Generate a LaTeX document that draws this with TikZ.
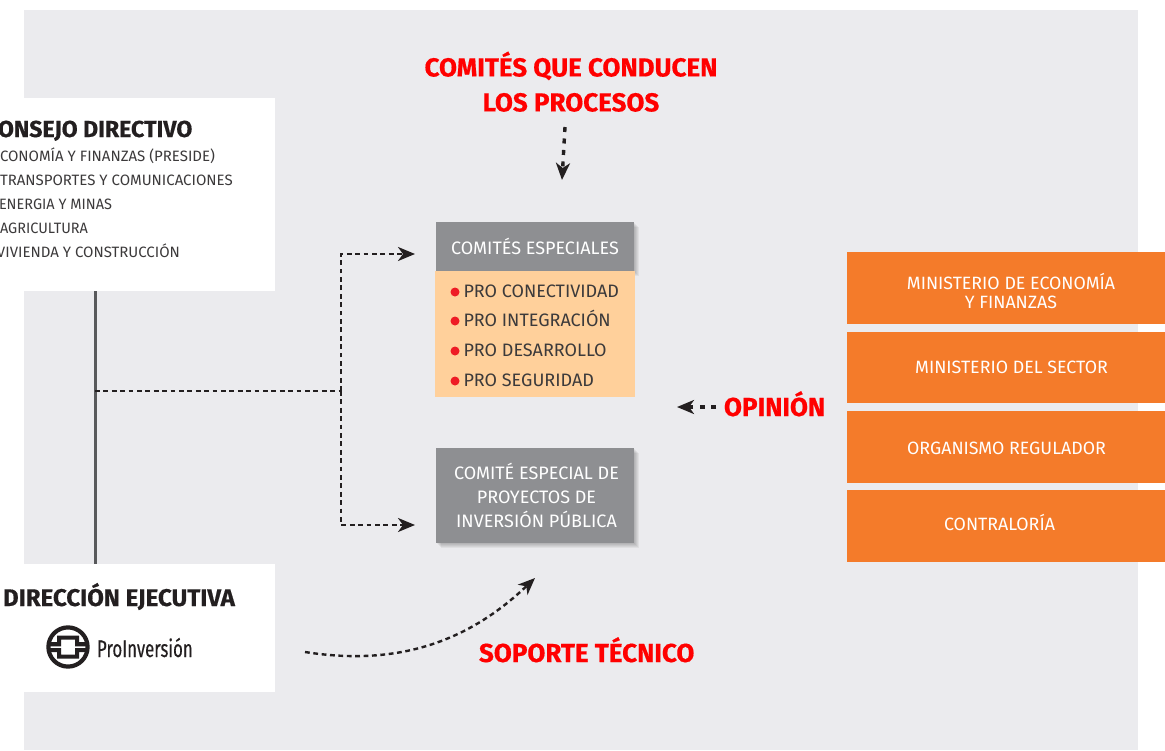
\documentclass[tikz,border=0pt]{standalone}
\usepackage{fontspec}
\setmainfont{Fira Sans}
\usetikzlibrary{arrows.meta}
\definecolor{panel}{HTML}{EBEBEE}
\definecolor{greybox}{HTML}{8E8F92}
\definecolor{peach}{HTML}{FFD09B}
\definecolor{orangebox}{HTML}{F47B2A}
\definecolor{ink}{HTML}{231F20}
\definecolor{bodyink}{HTML}{3C3A3B}
\definecolor{redhead}{HTML}{FF0000}
\definecolor{stem}{HTML}{58595B}
\definecolor{bullet}{HTML}{EE1C25}
\tikzset{
  x=1pt,y=-1pt,
  plain/.style={inner sep=0,outer sep=0,text depth=0pt},
  whitebox/.style={plain,fill=white,anchor=north west},
  greyshade/.style={plain,fill=greybox,text=white,anchor=north west,align=center,font=\fontsize{18}{24}\selectfont},
  softshade/.style={fill=black,opacity=.05},
  orangecard/.style={plain,fill=orangebox,anchor=north west,minimum width=318pt},
  cardtext/.style={plain,text=white,align=center,font=\fontsize{17.8}{19}\selectfont},
  headline/.style={plain,text=redhead,font=\fontsize{26}{35}\selectfont\bfseries\addfontfeatures{FakeBold=0.5},align=center},
  titleline/.style={plain,text=ink,font=\fontsize{23.1}{26}\selectfont\bfseries\addfontfeatures{FakeBold=0.5},anchor=base west},
  member/.style={plain,text=bodyink,font=\fontsize{15}{18}\selectfont,anchor=base west},
  item/.style={plain,text=bodyink,font=\fontsize{18}{20}\selectfont,anchor=base west},
  dot/.style={circle,fill=bullet,inner sep=0,minimum size=9pt},
  dashedlink/.style={draw=ink,line width=2.4pt,dash pattern=on 4.8pt off 3.6pt},
  heavylink/.style={draw=ink,line width=3.4pt,dash pattern=on 5pt off 6.5pt},
  tip/.style={-{Stealth[length=17pt,width=14pt,inset=5pt]}},
}
\begin{document}
\begin{tikzpicture}
\useasboundingbox (0,0) rectangle (1165,750);
\fill[white] (0,0) rectangle (1165,750);
\node[plain,fill=panel,anchor=north west,minimum width=1114pt,minimum height=740pt] (panel) at (24,10) {};

% white boxes
\node[whitebox,minimum width=275pt,minimum height=193pt] (consejo) at (0,98) {};
\node[whitebox,minimum width=275pt,minimum height=128pt] (direccion) at (0,564) {};

\node[titleline] (t1) at (-2,137) {ONSEJO DIRECTIVO};
\node[member] (m1) at (0,161) {CONOMÍA Y FINANZAS (PRESIDE)};
\node[member] (m2) at (0,185) {TRANSPORTES Y COMUNICACIONES};
\node[member] (m3) at (-1,209) {\scalebox{.965}[1]{ENERGIA Y MINAS}};
\node[member] (m4) at (0,233) {\scalebox{.965}[1]{AGRICULTURA}};
\node[member] (m5) at (-3,257) {VIVIENDA Y CONSTRUCCIÓN};

\node[titleline,font=\fontsize{24.1}{26}\selectfont\bfseries\addfontfeatures{FakeBold=0.5}] (t2) at (3,606) {DIRECCIÓN EJECUTIVA};

% logo
\coordinate (logo) at (68,647);
\begin{scope}[shift={(logo)}]
  \draw[ink,line width=4.2pt] (0,0) circle (19.6);
  \fill[ink] (-20,-5) -- (-11,-5) -- (-11,-11.5) -- (11,-11.5) -- (11,-5) -- (20,-5) -- (20,-0.6)
     -- (7,-0.6) -- (7,-7.5) -- (-7,-7.5) -- (-7,-0.6) -- (-20,-0.6) -- cycle;
  \fill[ink] (-20,1) -- (-7,1) -- (-7,7.5) -- (7,7.5) -- (7,1) -- (20,1) -- (20,5)
     -- (11,5) -- (11,11.5) -- (-11,11.5) -- (-11,5) -- (-20,5) -- cycle;
\end{scope}
\node[plain,anchor=base west,text=ink,font=\fontsize{24}{26}\selectfont\addfontfeatures{FakeBold=0.3}] (logotext) at (97,657) {\scalebox{.7}[1]{ProInversión}};

% soft shadows of the grey boxes
\foreach \g in {1,2,3,4,5}{
  \fill[softshade] (436+\g*.9,222+\g*.9) rectangle (634+\g*.9,271+\g*.9);
  \fill[softshade] (436+\g*.9,448+\g*.9) rectangle (634+\g*.9,543+\g*.9);
}

% grey / peach
\node[greyshade,minimum width=198pt,minimum height=49pt] (especiales) at (436,222) {COMITÉS ESPECIALES};
\node[plain,fill=peach,anchor=north west,minimum width=200pt,minimum height=126pt] (lista) at (435,271) {};
\foreach \n/\yy/\tx in {a/291/PRO CONECTIVIDAD,b/320/PRO INTEGRACIÓN,c/350/PRO DESARROLLO,d/380/PRO SEGURIDAD}{
  \node[dot] (dot\n) at (455,\yy+1) {};
  \node[item] (item\n) at (463.5,\yy+6) {\tx};
}
\node[greyshade,minimum width=198pt,minimum height=95pt] (inversion) at (436,448) {\hspace*{3pt}COMITÉ ESPECIAL DE\\\hspace*{3pt}PROYECTOS DE\\\hspace*{3pt}INVERSIÓN PÚBLICA};

% orange cards
\node[orangecard,minimum height=72pt] (o1) at (847,252) {};
\node[orangecard,minimum height=71pt] (o2) at (847,332) {};
\node[orangecard,minimum height=72pt] (o3) at (847,411) {};
\node[orangecard,minimum height=72pt] (o4) at (847,490) {};
\node[cardtext] (l1) at (1011,291) {MINISTERIO DE ECONOMÍA\\Y FINANZAS};
\node[cardtext] (l2) at (1011.5,367) {MINISTERIO DEL SECTOR};
\node[cardtext] (l3) at (1006.5,448) {ORGANISMO REGULADOR};
\node[cardtext] (l4) at (999.5,522.5) {CONTRALORÍA};

% red headings
\node[headline] (conducen) at (571,81.5) {COMITÉS QUE CONDUCEN\\LOS PROCESOS};
\node[headline,anchor=base west] (opinion) at (724,416) {OPINIÓN};
\node[headline,anchor=base west] (soporte) at (479,662) {SOPORTE TÉCNICO};

% connectors
\draw[stem,line width=3pt] (consejo.south -| 95,0) -- (direccion.north -| 95,0);
\coordinate (trunk) at (95,391);
\coordinate (fork) at (341,391);
\coordinate (toEsp) at (415,254);
\coordinate (toInv) at (415,525);
\draw[dashedlink] (trunk) -- (fork);
\draw[dashedlink,tip] (fork) -- (fork |- toEsp) -- (toEsp);
\draw[dashedlink,tip] (fork) -- (fork |- toInv) -- (toInv);

\coordinate (cStart) at (565,127);
\coordinate (cEnd) at (562,180);
\draw[heavylink,tip] (cStart) -- (cEnd);

\coordinate (opEnd) at (677,407);
\draw[heavylink,tip] (opinion.west |- opEnd) ++(-8,0) -- (opEnd);

\coordinate (sStart) at (305,652);
\coordinate (sEnd) at (535,578);
\draw[dashedlink,tip] (sStart) .. controls (400,667) and (470,640) .. (sEnd);
\end{tikzpicture}
\end{document}
